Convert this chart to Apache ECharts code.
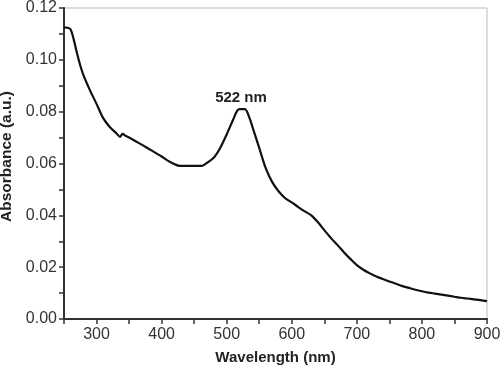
<!DOCTYPE html>
<html>
<head>
    <meta charset="utf-8">
    <title>Absorbance spectrum</title>
    <script src="https://cdn.jsdelivr.net/npm/echarts@6/dist/echarts.min.js"></script>
</head>
<body style="margin:0;background:#fff;">
    <div id="main" style="width:500px;height:366px;"></div>
    <script type="text/javascript">
        // wavelength (nm) and absorbance (a.u.)
        var wavelength = [250, 255, 260, 265, 270, 275, 280, 290, 300, 310, 320, 330, 336, 340, 345, 350,
            360, 370, 380, 390, 400, 410, 420, 428, 440, 450, 462, 470, 480, 490, 500, 510, 516, 520, 528,
            535, 540, 550, 560, 570, 580, 590, 600, 610, 620, 630, 640, 650, 660, 670, 680, 690, 700, 710,
            720, 730, 740, 750, 760, 770, 780, 790, 800, 810, 820, 830, 840, 850, 860, 870, 880, 890, 900];
        var absorbance = [0.1125, 0.1124, 0.1118, 0.1078, 0.1025, 0.0978, 0.0940, 0.0882, 0.0830, 0.0776,
            0.0742, 0.0718, 0.0703, 0.0714, 0.0706, 0.0700, 0.0686, 0.0672, 0.0657, 0.0642, 0.0627, 0.0610,
            0.0597, 0.0591, 0.0591, 0.0591, 0.0591, 0.0603, 0.0622, 0.0660, 0.0712, 0.0770, 0.0803, 0.0810,
            0.0810, 0.0776, 0.0738, 0.0660, 0.0582, 0.0528, 0.0492, 0.0466, 0.0450, 0.0432, 0.0415, 0.0400,
            0.0374, 0.0343, 0.0313, 0.0286, 0.0258, 0.0232, 0.0208, 0.0190, 0.0176, 0.0164, 0.0154, 0.0145,
            0.0136, 0.0127, 0.0120, 0.0113, 0.0107, 0.0102, 0.0098, 0.0094, 0.0090, 0.0086, 0.0082, 0.0079,
            0.0076, 0.0073, 0.0069];
        var peakWavelength = 522;
        var peakAbsorbance = 0.0810;
        var peakLabel = '522 nm';

        var points = wavelength.map(function (w, i) { return [w, absorbance[i]]; });

        var myChart = echarts.init(document.getElementById('main'));
        var labelFont = { fontFamily: 'Liberation Sans, Arial, sans-serif', fontSize: 16, color: '#333' };
        var option = {
            animation: false,
            grid: {
                left: 64, right: 13, top: 8, bottom: 47,
                outerBoundsMode: 'none',
                show: true, borderColor: '#bbb', borderWidth: 1
            },
            xAxis: {
                type: 'value',
                min: 250, max: 900, interval: 50,
                name: 'Wavelength (nm)',
                nameLocation: 'middle',
                nameGap: 31,
                nameTextStyle: { fontFamily: 'Liberation Sans, Arial, sans-serif', fontSize: 15, fontWeight: 'bold', color: '#222' },
                axisLine: { lineStyle: { color: '#333', width: 2 } },
                axisTick: { length: 5, lineStyle: { color: '#333', width: 1.5 } },
                axisLabel: Object.assign({
                    margin: 8,
                    formatter: function (v) { return v % 100 === 0 ? String(v) : ''; }
                }, labelFont),
                splitLine: { show: false }
            },
            yAxis: {
                type: 'value',
                min: 0, max: 0.12, interval: 0.01,
                name: 'Absorbance (a.u.)',
                nameLocation: 'middle',
                nameGap: 49,
                nameTextStyle: {
                    fontFamily: 'Liberation Sans, Arial, sans-serif', fontSize: 15.5, fontWeight: 'bold', color: '#222',
                    padding: [0, 0, 0, 14]
                },
                axisLine: { show: true, lineStyle: { color: '#333', width: 2 } },
                axisTick: { show: true, length: 5, lineStyle: { color: '#333', width: 1.5 } },
                axisLabel: Object.assign({
                    margin: 7,
                    formatter: function (v) { return Math.round(v * 100) % 2 === 0 ? v.toFixed(2) : ''; }
                }, labelFont),
                splitLine: { show: false }
            },
            series: [{
                type: 'line',
                data: points,
                symbol: 'none',
                smooth: 0.3,
                lineStyle: { color: '#111', width: 2.2 },
                markPoint: {
                    symbol: 'circle',
                    symbolSize: 0,
                    data: [{ coord: [peakWavelength, peakAbsorbance] }],
                    label: {
                        show: true,
                        position: 'top',
                        distance: 4,
                        formatter: peakLabel,
                        fontFamily: 'Liberation Sans, Arial, sans-serif',
                        fontSize: 15,
                        fontWeight: 'bold',
                        color: '#222'
                    }
                }
            }]
        };
        myChart.setOption(option);
    </script>
</body>
</html>
